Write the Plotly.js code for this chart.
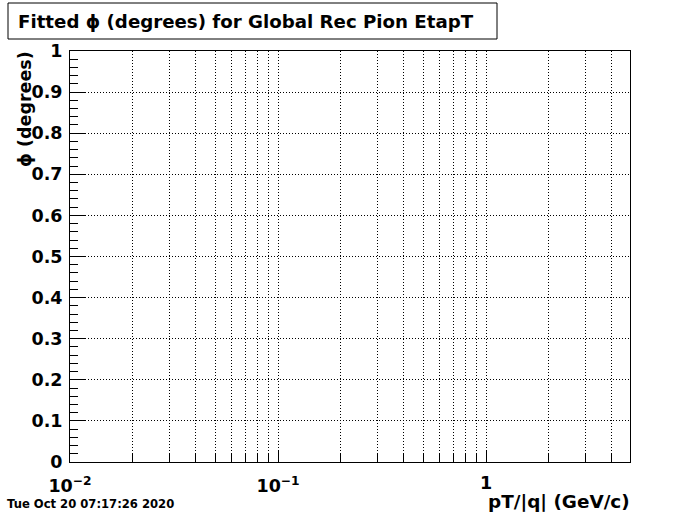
<!DOCTYPE html>
<html>
<head>
<meta charset="utf-8">
<script src="https://cdn.plot.ly/plotly-3.0.1.min.js"></script>
<style>html,body{margin:0;padding:0;background:#fff;}#chart{width:700px;height:514px;}</style>
</head>
<body>
<div id="chart"></div>
<script>
// ---- data (the fitted series is empty in the reference) ----
const ptValues = [];
const phiValues = [];
const xDecadeVals = [0.01, 0.1, 1];
const xDecadeText = ['10<sup>\u22122</sup>', '10<sup>\u22121</sup>', '1'];
const xMinorVals = [0.02, 0.03, 0.04, 0.05, 0.06, 0.07, 0.08, 0.09,
                    0.2, 0.3, 0.4, 0.5, 0.6, 0.7, 0.8, 0.9,
                    2, 3, 4];
const yTickVals = [0, 0.1, 0.2, 0.3, 0.4, 0.5, 0.6, 0.7, 0.8, 0.9, 1];
const yTickText = ['0', '0.1', '0.2', '0.3', '0.4', '0.5', '0.6', '0.7', '0.8', '0.9', '1'];
const xRange = [0.01, 4.92];
const yRange = [0, 1];
const titleText = 'Fitted \u03d5 (degrees) for Global Rec Pion EtapT';
const xTitleText = 'pT/|q| (GeV/c)';
const yTitleText = '\u03d5 (degrees)';
const dateText = 'Tue Oct 20 07:17:26 2020';

const F = 'DejaVu Sans, Verdana, sans-serif';
const L = 70, R = 630, T = 51, B = 462;
const px = v => (v - L) / (R - L);
const py = v => (B - v) / (B - T);
const DOT = '1px,2px';

// labels with superscripts go on the axis; plain decade labels are placed
// at their tick value so that their baseline matches the others
const supIdx = xDecadeText.map((t, i) => t.indexOf('<sup>') >= 0 ? i : -1).filter(i => i >= 0);
const plainIdx = xDecadeText.map((t, i) => t.indexOf('<sup>') < 0 ? i : -1).filter(i => i >= 0);
const axisTickText = xDecadeText.map((t, i) => supIdx.indexOf(i) >= 0 ? t : '');
const plainLabelAnns = plainIdx.map(i => ({
  text: xDecadeText[i], xref: 'x', yref: 'paper',
  x: Math.log10(xDecadeVals[i]), y: py(483),
  xanchor: 'center', yanchor: 'middle', showarrow: false,
  font: {family: F, size: 17.5, weight: 'bold', color: 'black'}
}));

const data = [{
  type: 'scatter', mode: 'markers',
  x: ptValues, y: phiValues,
  marker: {color: 'black', size: 5},
  showlegend: false, hoverinfo: 'skip'
}];

const layout = {
  width: 700, height: 514,
  margin: {l: L, r: 700 - R, t: T, b: 514 - B, pad: 0},
  paper_bgcolor: 'white', plot_bgcolor: 'white',
  showlegend: false,
  font: {family: F, color: 'black'},
  xaxis: {
    type: 'log',
    range: [Math.log10(xRange[0]), Math.log10(xRange[1])],
    tickmode: 'array', tickvals: xDecadeVals, ticktext: axisTickText,
    ticks: 'inside', ticklen: 12, tickwidth: 1, tickcolor: 'black',
    tickfont: {family: F, size: 17.5, weight: 'bold', color: 'black'},
    ticklabelstandoff: 8,
    showgrid: true, gridcolor: 'black', griddash: DOT, gridwidth: 1,
    minor: {tickmode: 'array', tickvals: xMinorVals, ticks: 'inside', ticklen: 8,
            tickwidth: 1, tickcolor: 'black', showgrid: true,
            gridcolor: 'black', griddash: DOT, gridwidth: 1},
    showline: true, linecolor: 'black', linewidth: 1, mirror: true,
    zeroline: false, fixedrange: true
  },
  yaxis: {
    range: yRange,
    tickmode: 'array', tickvals: yTickVals, ticktext: yTickText,
    ticks: 'inside', ticklen: 16, tickwidth: 1, tickcolor: 'black',
    tickfont: {family: F, size: 17.5, weight: 'bold', color: 'black'},
    ticklabelstandoff: 3,
    showgrid: true, gridcolor: 'black', griddash: DOT, gridwidth: 1,
    minor: {dtick: 0.02, ticks: 'inside', ticklen: 8, tickwidth: 1,
            tickcolor: 'black', showgrid: false},
    showline: true, linecolor: 'black', linewidth: 1, mirror: true,
    zeroline: false, fixedrange: true
  },
  shapes: [{
    type: 'rect', xref: 'paper', yref: 'paper',
    x0: px(8), x1: px(497), y0: py(39), y1: py(3),
    line: {color: 'black', width: 1}, fillcolor: 'white', layer: 'above'
  }],
  annotations: [
    {text: titleText, xref: 'paper', yref: 'paper', x: px(16), y: py(21),
     xanchor: 'left', yanchor: 'middle', showarrow: false,
     font: {family: F, size: 18.2, weight: 'bold', color: 'black'}},
    {text: yTitleText, xref: 'paper', yref: 'paper', x: px(25), y: py(109),
     xanchor: 'center', yanchor: 'middle', textangle: -90, showarrow: false,
     font: {family: F, size: 17.5, weight: 'bold', color: 'black'}},
    {text: xTitleText, xref: 'paper', yref: 'paper', x: px(632), y: py(501),
     xanchor: 'right', yanchor: 'middle', showarrow: false,
     font: {family: F, size: 18.4, weight: 'bold', color: 'black'}},
    {text: dateText, xref: 'paper', yref: 'paper', x: px(5), y: py(504),
     xanchor: 'left', yanchor: 'middle', showarrow: false,
     font: {family: F, size: 11.6, weight: 'bold', color: 'black'}}
  ].concat(plainLabelAnns)
};

Plotly.newPlot('chart', data, layout, {staticPlot: true, displayModeBar: false});
</script>
</body>
</html>
